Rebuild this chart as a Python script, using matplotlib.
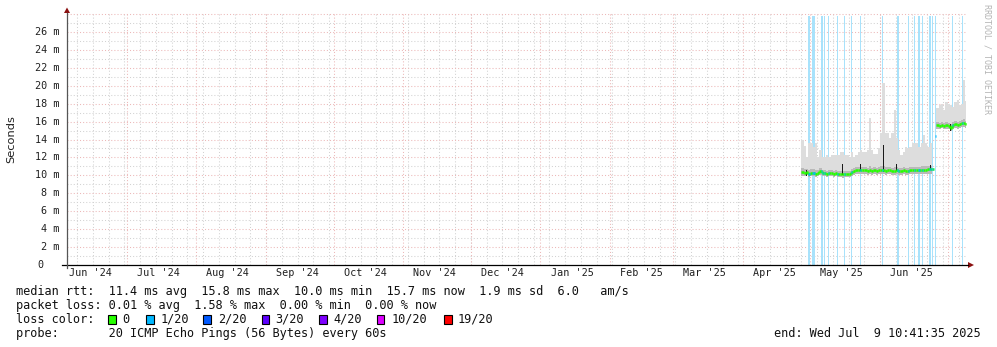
import numpy as np
import pandas as pd
import matplotlib
matplotlib.use("Agg")
import matplotlib.pyplot as plt
import matplotlib.dates as mdates
from matplotlib.patches import Rectangle, Polygon
from matplotlib.lines import Line2D

# ---------------- data ----------------
end_time = "2025-07-09 10:41:35"
day_start = "2025-04-27"          # first day with data (daily steps)
nan = float("nan")

rtt_median = [10.4, 10.3, 10.4, 10.2, 10.3, 10.3, 10.2, 10.3, 10.5, 10.3,
              10.3, 10.2, 10.3, 10.3, 10.2, 10.3, 10.2, 10.2, 10.1, 10.2,
              10.2, 10.2, 10.4, 10.5, 10.6, 10.6, 10.6, 10.6, 10.6, 10.5,
              10.6, 10.5, 10.6, 10.5, 10.6, 10.6, 10.6, 10.5, 10.6, 10.6,
              10.5, 10.5, 10.6, 10.5, 10.5, 10.6, 10.5, 10.5, 10.6, 10.6,
              10.6, 10.6, 10.6, 10.6, 10.6, 10.6, 10.7, 10.7, 10.7,
              14.4,
              15.6, 15.5, 15.6, 15.5, 15.6, 15.5, 15.3, 15.6, 15.7, 15.6,
              15.7, 15.8, 15.8, 15.7]
rtt_min = [9.9, 9.9, 10.0, 9.8, 9.9, 9.9, 9.8, 9.9, 10.0, 9.9,
           9.9, 9.8, 9.9, 9.9, 9.8, 9.9, 9.8, 9.8, 9.7, 9.8,
           9.8, 9.8, 9.9, 10.0, 10.1, 10.1, 10.1, 10.1, 10.1, 10.0,
           10.1, 10.0, 10.1, 10.0, 10.1, 10.1, 10.1, 10.0, 10.1, 10.1,
           10.0, 10.0, 10.1, 10.0, 10.0, 10.1, 10.0, 10.0, 10.1, 10.1,
           10.1, 10.1, 10.1, 10.2, 10.1, 10.2, 10.2, 10.2, 10.2,
           nan,
           15.2, 15.2, 15.3, 15.2, 15.2, 15.2, 15.0, 15.2, 15.3, 15.2,
           15.3, 15.4, 15.4, 15.3]
rtt_max = [14.0, 13.3, 12.1, 13.6, 13.6, 13.2, 13.6, 12.1, 12.8, 12.1,
           12.1, 12.3, 12.1, 12.3, 12.3, 12.3, 12.3, 12.6, 12.6, 12.3,
           12.3, 12.1, 12.6, 12.1, 12.3, 12.6, 12.8, 12.6, 12.6, 12.8,
           16.4, 12.8, 12.4, 12.4, 13.0, 14.7, 20.3, 14.7, 14.7, 14.2,
           14.7, 17.3, 14.2, 12.8, 12.3, 12.6, 13.2, 13.0, 13.2, 13.6,
           13.6, 13.6, 13.2, 13.6, 14.5, 13.6, 13.2, 13.6, 13.2,
           nan,
           17.5, 17.8, 18.0, 17.3, 18.2, 18.0, 17.8, 17.6, 18.2, 18.4,
           17.9, 18.0, 20.6, 18.3]
rtt_upper = [10.8, 10.7, 10.7, 10.6, 10.7, 10.7, 10.6, 10.6, 10.8, 10.6,
             10.6, 10.5, 10.6, 10.6, 10.5, 10.6, 10.5, 10.5, 10.5, 10.5,
             10.5, 10.5, 10.7, 10.8, 10.9, 10.9, 10.9, 10.9, 10.9, 10.8,
             11.0, 10.8, 10.9, 10.8, 10.9, 11.0, 11.0, 10.9, 10.9, 10.9,
             10.8, 10.9, 10.9, 10.8, 10.8, 10.9, 10.8, 10.8, 10.9, 10.9,
             10.9, 10.9, 10.9, 11.0, 11.0, 11.0, 11.1, 11.1, 11.0,
             nan,
             16.0, 15.9, 16.0, 15.9, 16.0, 15.9, 15.7, 16.0, 16.1, 16.0,
             16.1, 16.2, 16.3, 16.1]

# dark smoke streaks: (date, low ms, high ms)
dark_dates = ["2025-04-29", "2025-05-15", "2025-05-23", "2025-06-02",
              "2025-06-08", "2025-06-23", "2025-07-02"]
dark_low = [9.9, 10.0, 10.5, 10.4, 10.5, 10.6, 15.0]
dark_high = [10.6, 11.3, 11.3, 13.4, 11.3, 11.2, 15.7]

# periods with 1/20 packet loss
loss_start = ["2025-04-30 03:00", "2025-05-01 19:00", "2025-05-05 19:00",
              "2025-05-07 03:00", "2025-05-08 21:00", "2025-05-12 21:00",
              "2025-05-16 00:00", "2025-05-19 03:00", "2025-05-23 03:00",
              "2025-06-01 21:00", "2025-06-08 13:00", "2025-06-13 11:00",
              "2025-06-16 03:00", "2025-06-17 21:00", "2025-06-19 16:00",
              "2025-06-22 19:00", "2025-06-24 03:00", "2025-06-25 12:00",
              "2025-07-03 00:00", "2025-07-07 11:00"]
loss_end = ["2025-04-30 18:00", "2025-05-03 06:00", "2025-05-06 19:00",
            "2025-05-07 13:00", "2025-05-09 08:00", "2025-05-13 08:00",
            "2025-05-16 11:00", "2025-05-19 13:00", "2025-05-23 13:00",
            "2025-06-02 08:00", "2025-06-09 08:00", "2025-06-13 21:00",
            "2025-06-16 13:00", "2025-06-18 16:00", "2025-06-20 03:00",
            "2025-06-23 13:00", "2025-06-24 13:00", "2025-06-26 00:00",
            "2025-07-03 11:00", "2025-07-07 21:00"]

y_ticks = [0, 2, 4, 6, 8, 10, 12, 14, 16, 18, 20, 22, 24, 26]
month_labels = ["Jun '24", "Jul '24", "Aug '24", "Sep '24", "Oct '24", "Nov '24",
                "Dec '24", "Jan '25", "Feb '25", "Mar '25", "Apr '25", "May '25",
                "Jun '25"]
month_label_dates = ["2024-06-15", "2024-07-15", "2024-08-15", "2024-09-15",
                     "2024-10-15", "2024-11-15", "2024-12-15", "2025-01-15",
                     "2025-02-15", "2025-03-15", "2025-04-15", "2025-05-15",
                     "2025-06-15"]

legend_lines = [
    "median rtt:  11.4 ms avg  15.8 ms max  10.0 ms min  15.7 ms now  1.9 ms sd  6.0   am/s",
    "packet loss: 0.01 % avg  1.58 % max  0.00 % min  0.00 % now",
    "loss color:",
    "probe:       20 ICMP Echo Pings (56 Bytes) every 60s",
]
loss_names = ["0", "1/20", "2/20", "3/20", "4/20", "10/20", "19/20"]
loss_colors = ["#26ff00", "#00b8ff", "#0059ff", "#5e00ff", "#7e00ff", "#dd00ff", "#ff0000"]
end_label = "end: Wed Jul  9 10:41:35 2025"

# ---------------- figure ----------------
W, H = 997, 347
fig = plt.figure(figsize=(W / 100, H / 100), dpi=100)
fig.patch.set_facecolor("white")


def fx(px):
    return px / W


def fy(py):
    return 1 - py / H


X0, X1, Y0, Y1 = 67, 966.5, 265, 13
ax = fig.add_axes([fx(X0), fy(Y0), fx(X1) - fx(X0), fy(Y1) - fy(Y0)])
t_end = pd.Timestamp(end_time)
t_start = t_end - pd.Timedelta(days=400)
ax.set_xlim(mdates.date2num(t_start), mdates.date2num(t_end))
ax.set_ylim(0, 28.12)
for s in ax.spines.values():
    s.set_visible(False)
ax.set_xticks([])
ax.set_yticks([])
ax.patch.set_facecolor("white")

DOT = (0, (1, 2))
minor_c = "#d2d2d2"
major_c = "#ecb8b8"
for v in range(1, 29):
    if v % 2 == 0:
        ax.axhline(v, color=major_c, lw=0.75, ls=DOT, zorder=1)
    else:
        ax.axhline(v, color=minor_c, lw=0.75, ls=DOT, zorder=0.5)
for d in pd.date_range(t_start.normalize(), t_end, freq="W-SUN"):
    ax.axvline(mdates.date2num(d), color=minor_c, lw=0.75, ls=DOT, zorder=0.5)
for d in pd.date_range(t_start.normalize(), t_end, freq="MS"):
    ax.axvline(mdates.date2num(d), color=major_c, lw=0.75, ls=DOT, zorder=1)

# loss background
ls_num = [(mdates.date2num(pd.Timestamp(s)), mdates.date2num(pd.Timestamp(e)))
          for s, e in zip(loss_start, loss_end)]
for s, e in ls_num:
    ax.axvspan(s, e, ymin=0, ymax=0.99, color="#a8e2fb", lw=0, zorder=2)

# smoke
days = pd.date_range(day_start, periods=len(rtt_median), freq="D")
edges = list(days) + [t_end]
xe = mdates.date2num(pd.DatetimeIndex(edges))


def stepfill(lo, hi, color, z):
    lo2 = np.append(np.asarray(lo, float), lo[-1])
    hi2 = np.append(np.asarray(hi, float), hi[-1])
    ok = ~(np.isnan(lo2) | np.isnan(hi2))
    ax.fill_between(xe, lo2, hi2, where=ok, step="post", color=color, lw=0,
                    zorder=z, interpolate=False)


stepfill(rtt_min, rtt_max, "#dddddd", 3)
stepfill(rtt_min, rtt_upper, "#b9b9b9", 4)
for dd, lo, hi in zip(dark_dates, dark_low, dark_high):
    d0 = mdates.date2num(pd.Timestamp(dd))
    ax.fill_between([d0 + 0.15, d0 + 0.6], [lo, lo], [hi, hi], color="#1a1a1a", lw=0, zorder=5)

# median line (green), loss steps overdrawn in blue
MLW = 1.8
has_data = [not np.isnan(v) for v in rtt_min]
for i, m in enumerate(rtt_median):
    if not has_data[i]:
        continue
    a, b = xe[i], xe[i + 1]
    ax.plot([a, b], [m, m], color=loss_colors[0], lw=MLW, solid_capstyle="butt", zorder=6)
    if i > 0 and has_data[i - 1]:
        ax.plot([a, a], [rtt_median[i - 1], m], color=loss_colors[0], lw=MLW,
                solid_capstyle="butt", zorder=6)
for s, e in ls_num:
    for i, m in enumerate(rtt_median):
        a, b = max(xe[i], s), min(xe[i + 1], e)
        if b > a:
            ax.plot([a, b], [m, m], color=loss_colors[1], lw=MLW,
                    solid_capstyle="butt", zorder=7)

# ---------------- axes lines and arrows ----------------
arrow_c = "#8b1010"
fig.add_artist(Line2D([fx(62), fx(968)], [fy(265), fy(265)], color="#000000", lw=0.9))
fig.add_artist(Line2D([fx(67), fx(67)], [fy(268), fy(13)], color="#555555", lw=0.9))
fig.add_artist(Polygon([[fx(968), fy(262)], [fx(974), fy(265)], [fx(968), fy(268)]],
                       closed=True, color=arrow_c, lw=0))
fig.add_artist(Polygon([[fx(64), fy(13)], [fx(67), fy(7.5)], [fx(70), fy(13)]],
                       closed=True, color=arrow_c, lw=0))

MONO = "DejaVu Sans Mono"
ytr = ax.get_yaxis_transform()
for v in y_ticks:
    if v:
        ax.text(-0.008, v, f"{v} m", transform=ytr, ha="right", va="center",
                fontsize=7.3, family=MONO, color="#202020")
    else:
        fig.text(fx(43), fy(265), "0", ha="right", va="center",
                 fontsize=7.3, family=MONO, color="#202020")
xtr = ax.get_xaxis_transform()
for lab, d in zip(month_labels, month_label_dates):
    ax.text(mdates.date2num(pd.Timestamp(d)), -0.032, lab, transform=xtr,
            ha="center", va="center", fontsize=7.3, family=MONO, color="#202020")

fig.text(fx(11), fy(139), "Seconds", rotation=90, ha="center", va="center",
         fontsize=8.2, family="DejaVu Sans", color="#202020")
fig.text(fx(987), fy(4), "RRDTOOL / TOBI OETIKER", rotation=270, ha="center", va="top",
         fontsize=6.0, family=MONO, color="#b4b4b4")

# ---------------- legend ----------------
line_y = [291.5, 305.5, 319.3, 333.3]
for txt, yy in zip(legend_lines, line_y):
    fig.text(fx(16), fy(yy), txt, ha="left", va="center", fontsize=8.55,
             family=MONO, color="#101010")
box_x = [108, 146, 203.3, 261.7, 319, 376.7, 444.3]
lab_x = [122.5, 160.5, 218, 275.5, 333.5, 391.5, 457.5]
for bx, lx, name, c in zip(box_x, lab_x, loss_names, loss_colors):
    fig.add_artist(Rectangle((fx(bx), fy(323.5)), 7.5 / W, 9 / H, facecolor=c,
                             edgecolor="#000000", lw=0.8))
    fig.text(fx(lx), fy(319.3), name, ha="left", va="center", fontsize=8.55,
             family=MONO, color="#101010")
fig.text(fx(981), fy(333.3), end_label, ha="right", va="center", fontsize=8.55,
         family=MONO, color="#101010")

fig.savefig("out.png", dpi=100, facecolor="white")
